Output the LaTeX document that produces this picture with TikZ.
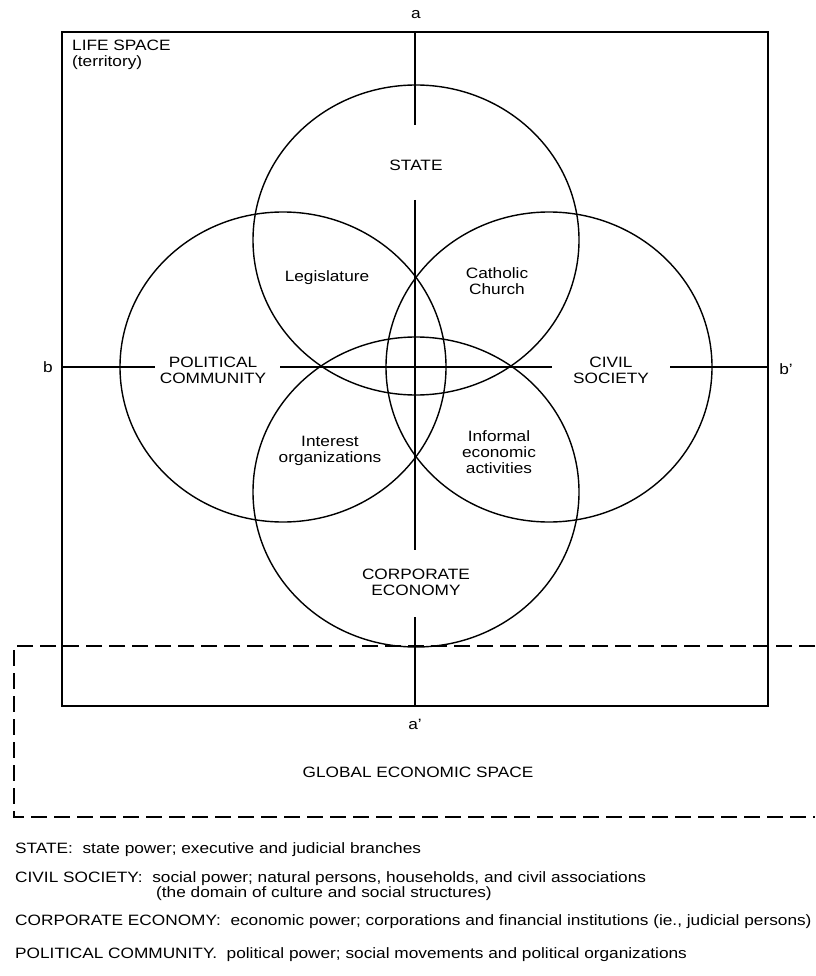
\documentclass[tikz,border=0pt]{standalone}
\usepackage{fontspec}
\setmainfont{Liberation Sans}
\newfontfamily\widesans[FakeStretch=1.15]{Liberation Sans}
\begin{document}
\begin{tikzpicture}[x=1pt,y=-1pt,
  lbl/.style={font=\widesans\fontsize{15}{16}\selectfont, align=center, inner sep=0pt},
  axisline/.style={line width=2.8pt},
  ring/.style={line width=1.4pt},
  frame/.style={line width=1.8pt},
  dashframe/.style={line width=1.8pt, dash pattern=on 16pt off 7pt},
  legend/.style={font=\widesans\fontsize{15}{17}\selectfont, anchor=west, inner sep=0pt}]
\useasboundingbox (0,0) rectangle (815,976);
% life space square
\draw[frame] (62,32) rectangle (768,706);
% circles
\draw[ring] (416,240) ellipse [x radius=163pt, y radius=155pt];
\draw[ring] (416,492) ellipse [x radius=163pt, y radius=155pt];
\draw[ring] (283,367) ellipse [x radius=163pt, y radius=155pt];
\draw[ring] (549,367) ellipse [x radius=163pt, y radius=155pt];
% axes
\coordinate (at1) at (415,32);   \coordinate (at2) at (415,125);
\coordinate (ac1) at (415,200);  \coordinate (ac2) at (415,550);
\coordinate (ab1) at (415,617);  \coordinate (ab2) at (415,706);
\coordinate (bl1) at (62,367);   \coordinate (bl2) at (155,367);
\coordinate (bc1) at (280,367);  \coordinate (bc2) at (552,367);
\coordinate (br1) at (670,367);  \coordinate (br2) at (768,367);
\draw[axisline] (at1) -- (at2);
\draw[axisline] (ac1) -- (ac2);
\draw[axisline] (ab1) -- (ab2);
\draw[axisline] (bl1) -- (bl2);
\draw[axisline] (bc1) -- (bc2);
\draw[axisline] (br1) -- (br2);
% global economic space
\coordinate (g1) at (815,646); \coordinate (g2) at (14,646);
\coordinate (g3) at (14,817);  \coordinate (g4) at (815,817);
\draw[dashframe] (g1) -- (g2) -- (g3) -- (g4);
% labels
\node[lbl] (la) at (416,15) {a};
\node[lbl] (laa) at (415,724) {a’};
\node[lbl] (lb) at (48,367) {b};
\node[lbl] (lbb) at (786,369) {b’};
\node[lbl, align=left, anchor=north west] (life) at (72,40) {LIFE SPACE\\(territory)};
\node[lbl] (state) at (416,165) {STATE};
\node[lbl] (legis) at (327,278) {Legislature};
\node[lbl] (church) at (497,281) {Catholic\\Church};
\node[lbl] (polcom) at (213,370) {POLITICAL\\COMMUNITY};
\node[lbl] (civil) at (611,370) {CIVIL\\SOCIETY};
\node[lbl] (interest) at (330,451) {Interest\\organizations};
\node[lbl] (informal) at (499,452) {Informal\\economic\\activities};
\node[lbl] (corp) at (416,582) {CORPORATE\\ECONOMY};
\node[lbl] (global) at (418,772) {GLOBAL ECONOMIC SPACE};
% legend
\node[legend] (l1) at (15,850) {STATE:\ \ state power; executive and judicial branches};
\node[legend] (l2) at (15,879) {CIVIL SOCIETY:\ \ social power; natural persons, households, and civil associations};
\node[legend] (l2b) at (156,894) {(the domain of culture and social structures)};
\node[legend] (l3) at (15,922) {CORPORATE ECONOMY:\ \ economic power; corporations and financial institutions (ie., judicial persons)};
\node[legend] (l4) at (15,955) {POLITICAL COMMUNITY.\ \ political power; social movements and political organizations};
\end{tikzpicture}
\end{document}
